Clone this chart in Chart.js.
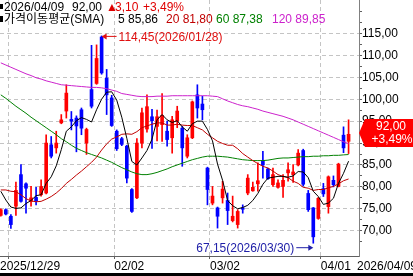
<!DOCTYPE html>
<html>
<head>
<meta charset="utf-8">
<script src="https://cdn.jsdelivr.net/npm/chart.js@4.4.1/dist/chart.umd.min.js"></script>
<style>
html, body { margin: 0; padding: 0; background: #fff; }
#wrap { width: 413px; height: 276px; }
</style>
</head>
<body>
<div id="wrap"><canvas id="chart" width="413" height="276"></canvas></div>
<script>
// daily candles, oldest first (index = trading day)
var opens = [73.5,74.8,73.3,75.6,82.8,80.7,76.7,77.6,78.2,78.6,
  89.6,88.9,94.6,97.3,95.4,95.7,97.6,90.0,102.2,103.6,
  114.2,104.8,100.3,92.7,91.0,89.3,79.4,77.5,90.0,93.2,
  96.0,93.8,94.2,92.7,91.2,95.0,93.4,87.0,91.2,101.0,
  98.9,84.3,76.3,75.2,77.5,76.9,72.3,71.4,75.2,78.6,
  79.1,80.7,86.0,84.1,80.5,79.9,80.1,83.2,82.8,85.0,
  88.3,78.5,75.2,72.8,79.6,75.5,81.5,80.1,91.8,90.4];
var highs = [75.0,75.0,73.7,81.1,85.1,80.9,80.1,79.9,81.6,91.9,
  91.5,92.7,96.5,103.3,97.2,96.2,98.0,93.4,112.3,112.4,
  114.45,106.8,100.9,93.0,91.3,89.5,79.6,91.0,98.0,101.0,
  97.7,97.5,101.3,95.0,96.1,98.4,93.8,91.9,99.6,103.3,
  100.7,84.5,80.1,75.4,81.3,78.6,77.9,74.8,75.9,82.8,
  81.1,85.5,88.1,84.3,84.3,81.6,82.8,85.5,85.1,88.5,
  88.6,79.2,75.3,77.6,80.8,82.5,82.5,85.4,93.7,95.3];
var lows = [73.3,73.6,70.5,73.5,76.5,74.0,75.6,75.9,77.9,78.4,
  86.6,87.7,94.4,95.7,93.0,88.0,91.9,87.4,98.0,103.4,
  105.7,96.5,93.8,88.3,89.4,80.9,74.2,77.3,88.9,92.5,
  88.8,90.5,90.4,89.3,87.7,93.5,84.7,86.6,91.0,95.7,
  95.3,75.9,75.9,70.6,76.3,71.4,72.0,70.6,74.0,78.2,
  79.0,79.0,82.0,81.7,80.1,79.7,77.6,81.3,81.0,84.8,
  80.2,74.4,67.15,72.6,77.8,74.0,80.0,80.0,87.8,87.6];
var closes = [74.8,73.8,71.4,79.2,76.7,79.7,77.5,76.8,80.1,90.0,
  87.0,90.0,95.3,101.4,95.0,93.9,93.4,93.1,98.4,109.3,
  106.0,101.0,94.0,88.7,89.7,82.0,74.4,90.0,96.9,98.3,
  95.1,96.0,96.3,90.8,95.3,97.3,88.9,91.2,99.4,98.0,
  97.6,79.4,77.9,73.3,79.5,74.6,73.3,74.4,74.9,82.0,
  79.9,81.4,85.0,81.9,82.8,80.9,81.5,83.9,83.4,87.7,
  80.6,74.8,68.6,77.4,78.4,82.3,80.5,85.2,88.9,92.0];

// moving averages
var ma5 = [79.0,77.0,75.4,75.1,75.2,76.2,76.9,78.0,78.2,80.8,
  82.3,84.8,88.5,92.7,93.7,95.1,95.8,95.4,94.8,97.6,
  100.0,101.6,101.7,99.8,95.9,91.1,85.8,85.0,86.6,88.3,
  90.9,95.3,96.5,95.3,94.7,95.1,93.7,92.7,94.4,95.0,
  95.0,93.1,90.5,85.2,81.5,76.9,75.7,75.0,75.3,75.8,
  76.9,78.5,80.6,82.0,82.2,82.4,82.4,82.2,82.5,83.5,
  83.4,82.1,79.0,77.8,76.0,76.3,77.4,80.8,83.1,85.86];
var ma20 = [79.3,79.3,79.0,78.9,78.2,77.3,76.8,76.6,76.7,77.2,
  77.8,78.6,79.6,80.8,81.7,82.7,83.6,84.6,85.6,86.8,
  88.4,89.8,90.9,91.4,92.0,92.1,92.0,92.6,93.5,93.9,
  94.3,94.6,94.6,94.1,94.1,94.3,94.1,94.0,94.0,93.5,
  93.0,92.0,91.2,90.4,89.9,89.5,89.5,88.7,87.6,86.8,
  86.0,85.3,84.7,84.3,83.6,82.8,82.4,82.1,81.3,80.8,
  79.9,79.7,79.2,79.4,79.4,79.8,80.1,80.7,81.4,81.80];
var ma60 = [101.0,100.2,99.3,98.4,97.6,96.8,95.9,95.1,94.3,93.5,
  92.7,91.9,91.0,90.3,89.5,88.8,88.3,87.8,87.4,87.0,
  86.6,86.1,85.6,85.0,84.4,83.9,83.4,83.0,82.8,82.8,
  83.0,83.3,83.7,84.1,84.6,85.0,85.4,85.8,86.2,86.5,
  86.8,87.0,87.0,87.0,86.9,86.8,86.6,86.4,86.2,86.1,
  86.0,86.0,86.0,86.1,86.3,86.5,86.6,86.6,86.7,86.8,
  86.9,86.9,87.0,87.0,87.1,87.1,87.2,87.2,87.3,87.38];
var ma120 = [108.3,107.8,107.3,106.8,106.3,105.8,105.4,104.9,104.6,104.2,
  103.9,103.6,103.3,103.2,103.1,103.0,102.9,102.8,102.7,102.7,
  102.6,102.4,102.1,101.8,101.3,101.1,100.9,100.7,100.6,100.6,
  100.6,100.7,100.7,100.7,100.8,100.8,100.8,100.8,100.8,100.8,
  100.8,100.8,100.7,100.6,100.1,99.6,99.2,98.8,98.5,98.3,
  98.0,97.7,97.3,97.0,96.7,96.4,96.1,95.7,95.3,94.8,
  94.3,93.8,93.3,92.8,92.3,91.8,91.3,90.8,90.3,89.85];

// x axis: date labels and month gridlines (in candle index units)
var xLabelAt = [-0.16, 22.5, 41.5, 63.5, 70.67];
var xLabelText = ['2025/12/29', '02/02', '03/02', '04/01', '2026/04/09'];
var xGridAt = [1.5, 22.5, 41.5, 63.5];

var hiDate = '2026/01/28';
var loDate = '2026/03/30';
var hdrDate = '2026/04/09';
var hdrChange = '3,10';
var hdrPct = '+3,49%';
var maTitle = '가격이동평균(SMA)';

var FAM = '"Liberation Sans", "Noto Sans CJK KR", sans-serif';
var FONT = '12px ' + FAM;
var UP = '#ff0000', DOWN = '#0000ff';
var GRID = '#c4c4c4';
var C5 = '#000000', C20 = '#c00000', C60 = '#008000', C120 = '#cc22cc';

function fmt(v) { return v.toFixed(2).replace('.', ','); }
function near(v, step) { return Math.abs(v / step - Math.round(v / step)) < 1e-6; }
function candleColor(i) { return closes[i] >= opens[i] ? UP : DOWN; }

var overlay = {
  id: 'overlay',
  afterDatasetsDraw: function (chart) {
    var ctx = chart.ctx, x = chart.scales.x, y = chart.scales.y;
    ctx.save();
    ctx.font = FONT;
    ctx.textBaseline = 'middle';
    // highest high
    var hi = highs.indexOf(Math.max.apply(null, highs));
    var hx = x.getPixelForValue(hi), hy = y.getPixelForValue(highs[hi]);
    ctx.strokeStyle = ctx.fillStyle = '#e01010';
    ctx.lineWidth = 1;
    ctx.beginPath(); ctx.moveTo(hx + 4, hy + 0.5); ctx.lineTo(hx + 15, hy + 0.5); ctx.stroke();
    ctx.beginPath(); ctx.moveTo(hx, hy + 0.5); ctx.lineTo(hx + 5, hy - 2.5); ctx.lineTo(hx + 5, hy + 3.5); ctx.fill();
    ctx.textAlign = 'left';
    ctx.fillText(fmt(highs[hi]) + '(' + hiDate + ')', hx + 17, hy + 2);
    // lowest low
    var lo = lows.indexOf(Math.min.apply(null, lows));
    var lx = x.getPixelForValue(lo), ly = y.getPixelForValue(lows[lo]) + 4;
    ctx.strokeStyle = ctx.fillStyle = '#2020a8';
    ctx.beginPath(); ctx.moveTo(lx - 17, ly + 0.5); ctx.lineTo(lx - 4, ly + 0.5); ctx.stroke();
    ctx.beginPath(); ctx.moveTo(lx, ly + 0.5); ctx.lineTo(lx - 5, ly - 2.5); ctx.lineTo(lx - 5, ly + 3.5); ctx.fill();
    ctx.textAlign = 'right';
    ctx.fillText(fmt(lows[lo]) + '(' + loDate + ')', lx - 19, ly + 1);
    ctx.restore();
  },
  afterDraw: function (chart) {
    var ctx = chart.ctx, y = chart.scales.y, area = chart.chartArea;
    var last = closes.length - 1;
    ctx.save();
    ctx.font = FONT;
    ctx.textBaseline = 'middle';
    ctx.textAlign = 'left';
    // header lines
    ctx.fillStyle = '#000';
    ctx.fillRect(0, 4, 3, 5);
    ctx.fillRect(0, 16, 3, 6);
    ctx.fillText(hdrDate, 4, 7.5);
    ctx.fillText(fmt(closes[last]), 72, 7.5);
    ctx.fillStyle = '#e00000';
    ctx.fillText('▲', 106, 7.5);
    ctx.fillText(hdrChange, 115, 7.5);
    ctx.fillText(hdrPct, 143, 7.5);
    ctx.fillStyle = '#000';
    ctx.fillText(maTitle, 4, 19.5);
    ctx.fillText('5 ' + fmt(ma5[last]), 118, 19.5);
    ctx.fillStyle = C20;
    ctx.fillText('20 ' + fmt(ma20[last]), 166, 19.5);
    ctx.fillStyle = C60;
    ctx.fillText('60 ' + fmt(ma60[last]), 216, 19.5);
    ctx.fillStyle = C120;
    ctx.fillText('120 ' + fmt(ma120[last]), 272, 19.5);
    // current price tag on the value axis
    var py = Math.round(y.getPixelForValue(closes[last])) - 1;
    var r = area.right;
    ctx.fillStyle = '#ff0000';
    ctx.beginPath();
    ctx.moveTo(r, py);
    ctx.lineTo(r + 6, py - 14);
    ctx.lineTo(413, py - 14);
    ctx.lineTo(413, py + 14);
    ctx.lineTo(r + 6, py + 14);
    ctx.closePath();
    ctx.fill();
    ctx.fillStyle = '#fff';
    ctx.textAlign = 'center';
    ctx.fillText(fmt(closes[last]), 391, py - 6);
    ctx.fillText(hdrPct, 392, py + 7);
    // bottom frame
    ctx.fillStyle = '#000';
    ctx.fillRect(0, 273, 413, 3);
    ctx.restore();
  }
};

var ctx1 = document.getElementById('chart').getContext('2d');
var chart = new Chart(ctx1, {
  type: 'bar',
  data: {
    datasets: [{
      label: 'SMA5', type: 'line', order: 0,
      data: ma5.map(function (v, i) { return {x: i, y: v}; }),
      borderColor: C5, borderWidth: 1, pointRadius: 0, tension: 0
    }, {
      label: 'SMA20', type: 'line', order: 0,
      data: ma20.map(function (v, i) { return {x: i, y: v}; }),
      borderColor: C20, borderWidth: 1, pointRadius: 0, tension: 0
    }, {
      label: 'SMA60', type: 'line', order: 0,
      data: ma60.map(function (v, i) { return {x: i, y: v}; }),
      borderColor: C60, borderWidth: 1, pointRadius: 0, tension: 0
    }, {
      label: 'SMA120', type: 'line', order: 0,
      data: ma120.map(function (v, i) { return {x: i, y: v}; }),
      borderColor: C120, borderWidth: 1, pointRadius: 0, tension: 0
    }, {
      label: 'body', order: 1, grouped: false,
      data: opens.map(function (o, i) { return {x: i, y: [o, closes[i]]}; }),
      backgroundColor: function (c) { return candleColor(c.dataIndex); },
      barThickness: 3, minBarLength: 1, borderWidth: 0
    }, {
      label: 'wick', order: 2, grouped: false,
      data: lows.map(function (l, i) { return {x: i, y: [l, highs[i]]}; }),
      backgroundColor: function (c) { return candleColor(c.dataIndex); },
      barThickness: 1, borderWidth: 0
    }]
  },
  options: {
    responsive: false,
    animation: false,
    layout: { padding: 0 },
    plugins: { legend: { display: false }, tooltip: { enabled: false } },
    scales: {
      x: {
        type: 'linear', min: -0.16, max: 71.07, offset: false,
        afterBuildTicks: function (s) {
          var vals = xLabelAt.concat(xGridAt).filter(function (v, i, a) { return a.indexOf(v) === i; });
          vals.sort(function (a, b) { return a - b; });
          s.ticks = vals.map(function (v) { return {value: v}; });
        },
        afterFit: function (s) { s.height = 20; s.paddingLeft = 0; s.paddingRight = 0; },
        ticks: {
          autoSkip: false, maxRotation: 0, minRotation: 0, align: 'start', padding: 0,
          color: '#000', font: { family: FAM, size: 12 },
          callback: function (v) { var i = xLabelAt.indexOf(v); return i < 0 ? '' : xLabelText[i]; }
        },
        grid: {
          offset: false,
          color: function (c) { return c.tick && xGridAt.indexOf(c.tick.value) >= 0 ? GRID : 'transparent'; },
          tickColor: function (c) { return c.tick && xGridAt.indexOf(c.tick.value) >= 0 ? '#606060' : 'transparent'; },
          tickLength: 3, lineWidth: 1
        },
        border: { color: '#606060', dash: [4, 3] }
      },
      y: {
        position: 'right', min: 64.23, max: 122.64,
        afterFit: function (s) { s.width = 54; s.paddingTop = 0; s.paddingBottom = 0; },
        ticks: {
          stepSize: 2.5, autoSkip: false, padding: 0,
          color: '#000', font: { family: FAM, size: 12 },
          callback: function (v) { return (near(v, 5) && v >= 70 && v <= 115) ? fmt(v) : ''; }
        },
        grid: {
          color: function (c) { var v = c.tick ? c.tick.value : 0; return (near(v, 5) && v >= 70 && v <= 115) ? GRID : 'transparent'; },
          tickColor: function (c) { var v = c.tick ? c.tick.value : 0; return near(v, 2.5) ? '#606060' : 'transparent'; },
          tickLength: 3, lineWidth: 1
        },
        border: { color: '#808080', dash: [4, 3] }
      }
    }
  },
  plugins: [overlay]
});
</script>
</body>
</html>
